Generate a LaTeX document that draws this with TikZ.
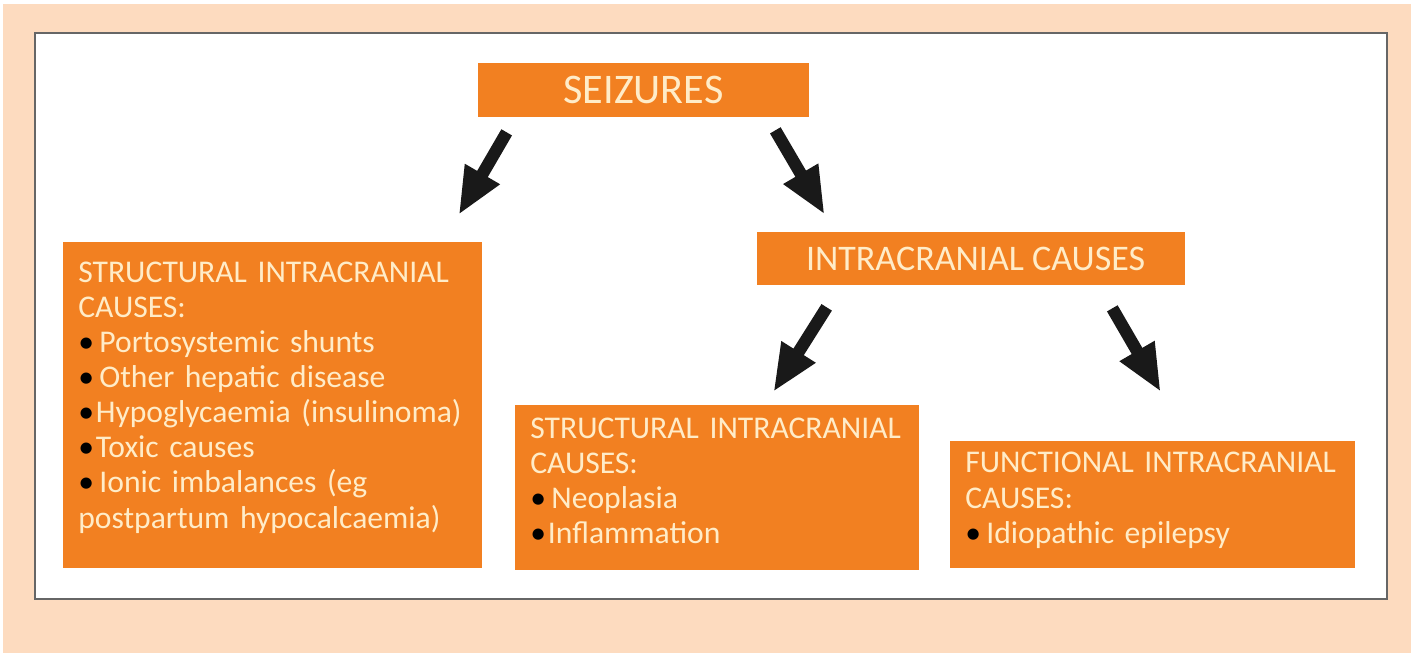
\documentclass[tikz,border=0pt]{standalone}
\usepackage{fontspec}
\setmainfont{Carlito}
\usetikzlibrary{arrows.meta,calc}
\definecolor{peach}{RGB}{253,219,191}
\definecolor{boxorange}{RGB}{242,128,33}
\definecolor{cream}{RGB}{255,236,200}
\newcommand{\blt}{\textcolor{black}{\textbullet}\hspace{1pt}}

\begin{document}
\begin{tikzpicture}[x=0.02cm,y=-0.02cm,
    headbox/.style={fill=boxorange, text=cream, inner sep=0pt},
    causebox/.style={fill=boxorange, text=cream, anchor=north west, align=left,
      inner xsep=0.3cm, inner ysep=0pt, font=\fontsize{18}{20}\selectfont},
    bigarrow/.style={line width=7pt, black!90, -{Triangle[width=21pt,length=27pt]}}]
        \useasboundingbox (0,0) rectangle (1421,653);
        \fill[white] (0,0) rectangle (1421,653);
        \fill[peach] (3,4) rectangle (1411,653);
        \draw[fill=white, draw=black!60, line width=1.2pt] (35,33) rectangle (1387,599);
        % top row
        \node[headbox, minimum width=6.62cm, minimum height=1.08cm,
          font=\fontsize{24}{28}\selectfont] (seizures) at (643.5,90) {SEIZURES};
        \node[headbox, minimum width=8.56cm, minimum height=1.06cm,
          font=\fontsize{20.5}{24}\selectfont] (intra) at (971,258.5) {\hspace{0.18cm}INTRACRANIAL CAUSES};
        % cause boxes
        \node[causebox, text width=7.78cm, minimum height=6.52cm] (extra) at (63,242)
          {STRUCTURAL INTRACRANIAL\\ CAUSES:\\ \blt\hspace{2pt}Portosystemic shunts\\ \blt\hspace{2pt}Other hepatic disease\\
           \blt Hypoglycaemia (insulinoma)\\ \blt Toxic causes\\ \blt\hspace{2pt}Ionic imbalances (eg\\ postpartum hypocalcaemia)\\[-8pt]\mbox{}};
        \node[causebox, text width=7.48cm, minimum height=3.3cm] (structural) at (515,405)
          {STRUCTURAL INTRACRANIAL\\ CAUSES:\\ \blt\hspace{2pt}Neoplasia\\ \blt Inflammation\\[-12pt]\mbox{}};
        \node[causebox, text width=7.5cm, minimum height=2.54cm] (functional) at (950,441)
          {FUNCTIONAL INTRACRANIAL\\ CAUSES:\\ \blt\hspace{2pt}Idiopathic epilepsy\\[-12pt]\mbox{}};
        % arrows
        \draw[bigarrow] ($(seizures.south west)+(29,15)$) -- ($(extra.north east)+(-24,-27)$);
        \draw[bigarrow] ($(seizures.south east)+(-34,13)$) -- ($(intra.north west)+(68,-17)$);
        \draw[bigarrow] ($(intra.south west)+(70,22)$) -- ($(structural.north)+(56,-13)$);
        \draw[bigarrow] ($(intra.south east)+(-73,23)$) -- ($(functional.north)+(8,-49)$);
      \end{tikzpicture}
\end{document}
